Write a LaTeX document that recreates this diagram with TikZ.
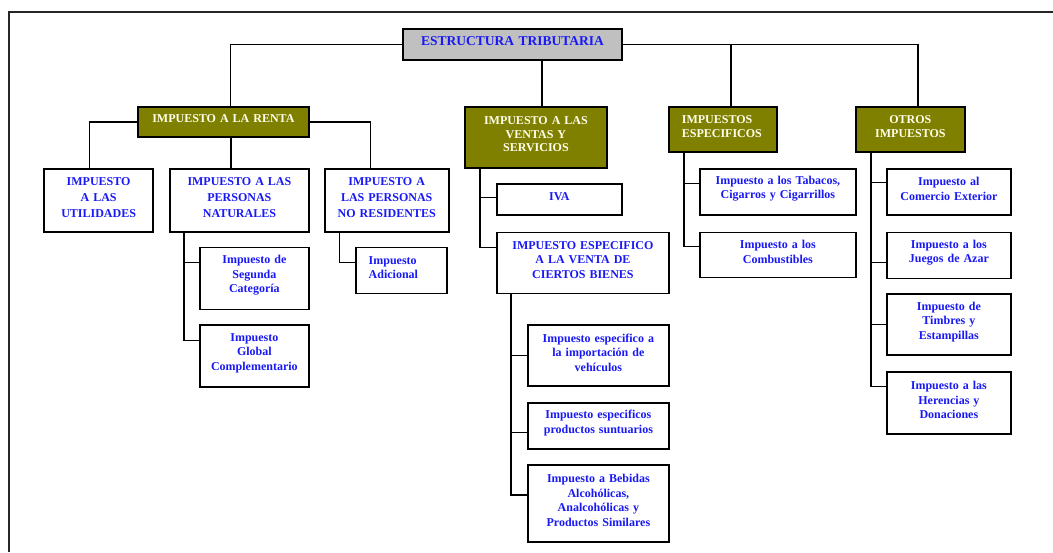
\documentclass[tikz,border=0pt]{standalone}
\usepackage{fontspec}
\setmainfont{Liberation Serif}
\usepackage{xcolor}
\usepackage{tikz}
\usetikzlibrary{positioning}
\definecolor{olivebox}{RGB}{128,128,0}
\definecolor{rootgray}{RGB}{192,192,192}
\definecolor{txtblue}{RGB}{25,25,245}
\definecolor{headtxt}{RGB}{255,255,235}
\newcommand{\padtail}{\par\vspace{6pt}\hrule height 0pt}

\begin{document}
\begin{tikzpicture}[
    x=1pt, y=-1pt,
    box/.style={draw, line width=1.8pt, align=center, fill=white,
                inner xsep=2pt, inner ysep=1pt, text=txtblue,
                font=\bfseries\fontsize{12}{14.5}\selectfont,
                execute at end node={\padtail}},
    head/.style={box, fill=olivebox, text=headtxt,
                 font=\bfseries\fontsize{12}{13.5}\selectfont},
    tall/.style={font=\bfseries\fontsize{12}{16}\selectfont},
    lft/.style={align=left, inner xsep=13pt},
    ln/.style={line width=1.2pt},
    frame/.style={line width=2pt, draw=black!85}
]
\useasboundingbox (0,0) rectangle (1053,552);
\draw[frame] (9,552) -- (9,12) -- (1053,12);

\node[box, fill=rootgray, anchor=north west, text width=215pt, minimum height=31pt,
      font=\bfseries\fontsize{13.5}{15}\selectfont]                        (root)   at (402,28)  {ESTRUCTURA TRIBUTARIA};
\node[head, anchor=north west, text width=167pt, minimum height=30pt]      (renta)  at (137,106) {IMPUESTO A LA RENTA};
\node[head, anchor=north west, text width=138pt, minimum height=61pt]      (ventas) at (464,106) {IMPUESTO A LAS\\VENTAS Y\\SERVICIOS};
\node[head, lft, anchor=north west, text width=82pt, minimum height=45pt]  (espec)  at (668,106) {IMPUESTOS\\ESPECIFICOS};
\node[head, anchor=north west, text width=105pt, minimum height=45pt]      (otros)  at (855,106) {OTROS\\IMPUESTOS};

\node[box, tall, below=30pt of renta.south east, anchor=north east, text width=135pt, minimum height=63pt] (nat)   {IMPUESTO A LAS\\PERSONAS\\NATURALES};
\node[box, tall, left=15pt of nat.north west, anchor=north east, text width=105pt, minimum height=63pt]     (uti)   {IMPUESTO\\A LAS\\UTILIDADES};
\node[box, tall, right=14pt of nat.north east, anchor=north west, text width=120pt, minimum height=63pt]    (nores) {IMPUESTO A\\LAS PERSONAS\\NO RESIDENTES};
\node[box, below=14pt of nat.south west, anchor=north west, xshift=30pt, text width=105pt, minimum height=62pt] (seg)  {Impuesto de\\Segunda\\Categoría};
\node[box, below=14pt of seg.south west, anchor=north west, text width=105pt, minimum height=62pt]              (glob) {Impuesto\\Global\\Complementario};
\node[box, lft, below=14pt of nores.south west, anchor=north west, xshift=31pt, text width=65pt, minimum height=46pt] (adic) {Impuesto\\Adicional};

\node[box, below=14pt of ventas.south west, anchor=north west, xshift=32pt, text width=121pt, minimum height=31pt] (iva)   {IVA};
\node[box, below=16pt of iva.south west, anchor=north west, text width=168pt, minimum height=61pt]                (cbien) {IMPUESTO ESPECIFICO\\A LA VENTA DE\\CIERTOS BIENES};
\node[box, below=30pt of cbien.south west, anchor=north west, xshift=31pt, text width=137pt, minimum height=61pt] (veh)   {Impuesto especifico a\\la importación de\\vehículos};
\node[box, below=15pt of veh.south west, anchor=north west, text width=137pt, minimum height=46pt]                (sunt)  {Impuesto especificos\\productos suntuarios};
\node[box, below=14pt of sunt.south west, anchor=north west, text width=137pt, minimum height=77pt]               (bebi)  {Impuesto a Bebidas\\Alcohólicas,\\Analcohólicas  y\\Productos Similares};

\node[box, below=15pt of espec.south west, anchor=north west, xshift=31pt, text width=152pt, minimum height=46pt] (taba) {Impuesto a los Tabacos,\\Cigarros y Cigarrillos};
\node[box, below=16pt of taba.south west, anchor=north west, text width=152pt, minimum height=45pt]               (comb) {Impuesto a los\\Combustibles};

\node[box, below=15pt of otros.south west, anchor=north west, xshift=31pt, text width=120pt, minimum height=46pt] (come) {Impuesto al\\Comercio Exterior};
\node[box, below=16pt of come.south west, anchor=north west, text width=120pt, minimum height=46pt]               (jueg) {Impuesto a los\\Juegos de Azar};
\node[box, below=14pt of jueg.south west, anchor=north west, text width=120pt, minimum height=61pt]               (timb) {Impuesto de\\Timbres y\\Estampillas};
\node[box, below=15pt of timb.south west, anchor=north west, text width=120pt, minimum height=62pt]               (here) {Impuesto a las\\Herencias y\\Donaciones};

\draw[ln] (root.west) -| ([xshift=7pt]renta.north);
\draw[ln] (root.east) -| ([xshift=7.5pt]otros.north);
\draw[ln] ([xshift=8pt]espec.north) |- (root.east);
\draw[ln] ([xshift=6pt]ventas.north) -- ([xshift=6pt]ventas.north |- root.south);

\draw[ln] (renta.west) -| ([xshift=-9.5pt]uti.north);
\draw[ln] (renta.east) -| ([xshift=-16pt]nores.north);
\draw[ln] ([xshift=7.5pt]renta.south) -- ([xshift=7.5pt]renta.south |- nat.north);

\draw[ln] ([xshift=15pt]nat.south west) |- ([yshift=-16pt]seg.north west);
\draw[ln] ([xshift=15pt]nat.south west) |- ([yshift=-16pt]glob.north west);
\draw[ln] ([xshift=16pt]nores.south west) |- ([yshift=-16pt]adic.north west);

\draw[ln] ([xshift=16pt]ventas.south west) |- ([yshift=-15pt]iva.north west);
\draw[ln] ([xshift=16pt]ventas.south west) |- ([yshift=-16pt]cbien.north west);
\draw[ln] ([xshift=15pt]cbien.south west) |- ([yshift=-31pt]veh.north west);
\draw[ln] ([xshift=15pt]cbien.south west) |- ([yshift=-30pt]sunt.north west);
\draw[ln] ([xshift=15pt]cbien.south west) |- ([yshift=-31pt]bebi.north west);

\draw[ln] ([xshift=16pt]espec.south west) |- ([yshift=-16pt]taba.north west);
\draw[ln] ([xshift=16pt]espec.south west) |- ([yshift=-15pt]comb.north west);

\draw[ln] ([xshift=16pt]otros.south west) |- ([yshift=-15pt]come.north west);
\draw[ln] ([xshift=16pt]otros.south west) |- ([yshift=-31pt]jueg.north west);
\draw[ln] ([xshift=16pt]otros.south west) |- ([yshift=-31pt]timb.north west);
\draw[ln] ([xshift=16pt]otros.south west) |- ([yshift=-15pt]here.north west);
\end{tikzpicture}
\end{document}
